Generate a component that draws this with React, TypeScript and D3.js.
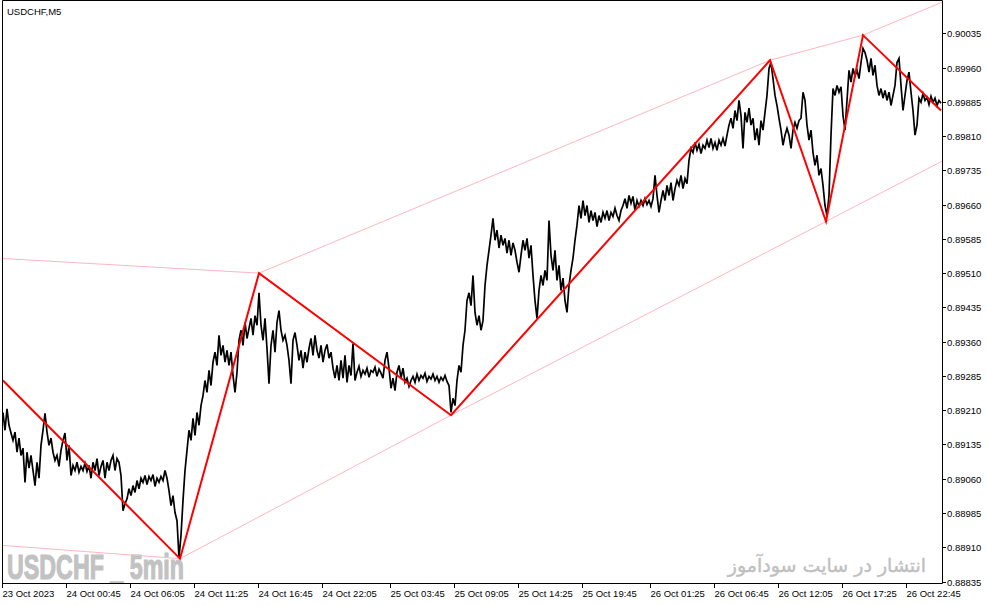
import React from "react";
import * as d3 from "d3";

// USDCHF M5 line chart with zigzag legs and channel lines
const SYMBOL = "USDCHF,M5";
const START = "2023-10-23 19:25";
const BAR_MINUTES = 5;
const BAR_COUNT = 939;
const CLOSE_STEP = 2; // one close every second bar

// closing prices (every 10 minutes from START)
const closes = [
  0.89205, 0.89166, 0.89213, 0.89177, 0.8916, 0.89144, 0.89162, 0.89118, 0.89149, 0.89111,
  0.89127, 0.89052, 0.89118, 0.89083, 0.89111, 0.89078, 0.89045, 0.89096, 0.89061, 0.89133, 0.89166,
  0.89203, 0.89162, 0.89133, 0.89149, 0.89118, 0.891, 0.89111, 0.89087, 0.89122, 0.89144, 0.8916,
  0.891, 0.89133, 0.89067, 0.89089, 0.89078, 0.89096, 0.89074, 0.89087, 0.89078, 0.89094, 0.89076,
  0.89089, 0.89061, 0.89096, 0.89078, 0.89104, 0.89067, 0.89087, 0.891, 0.89061, 0.89096, 0.89078, 0.891, 0.89111, 0.89078, 0.89104, 0.89096, 0.89067,
  0.8899, 0.89005, 0.89016, 0.89038, 0.89023, 0.89045, 0.8903, 0.89056, 0.89038, 0.89061,
  0.89052, 0.89067, 0.89047, 0.89065, 0.89056, 0.89069, 0.89043, 0.89061, 0.89052, 0.89065, 0.89056, 0.89078, 0.89061,
  0.89034, 0.89001, 0.89023, 0.88986, 0.88968, 0.88887,
  0.88936, 0.89012, 0.89078, 0.89122, 0.89166, 0.89144, 0.89192, 0.89155, 0.89205, 0.89177,
  0.8922, 0.89242, 0.89275, 0.89249, 0.89297, 0.89264, 0.89315, 0.89337, 0.89308, 0.89374, 0.8933,
  0.89352, 0.89315, 0.89341, 0.89308, 0.89337, 0.89286, 0.89249, 0.89293, 0.89363, 0.89385, 0.89352, 0.89402, 0.89367, 0.89389, 0.89411, 0.89374, 0.89417, 0.89396,
  0.89467, 0.89396, 0.89363, 0.89411, 0.89345, 0.89268, 0.89352, 0.89385, 0.89337, 0.89402, 0.89428, 0.89385, 0.89363, 0.89374, 0.89352, 0.89319, 0.89268,
  0.89363, 0.8938, 0.89352, 0.89319, 0.89341, 0.89302, 0.89337, 0.89315, 0.89345, 0.89367, 0.8933, 0.89374, 0.89341, 0.89324, 0.89352, 0.89315, 0.89341, 0.89354, 0.89324, 0.89337,
  0.89302, 0.8928, 0.89308, 0.89275, 0.89319, 0.8928, 0.8933, 0.89271, 0.89308, 0.89286, 0.89356, 0.89275,
  0.89293, 0.89306, 0.89284, 0.89297, 0.89289, 0.89302, 0.89282, 0.89297, 0.89293, 0.89304, 0.89284, 0.893, 0.89291, 0.8928,
  0.89319, 0.89337, 0.89302, 0.89258, 0.8928, 0.89253, 0.89293, 0.89308, 0.8928, 0.89302, 0.89271, 0.8928, 0.89262, 0.89275,
  0.89284, 0.89271, 0.89289, 0.89275, 0.89286, 0.8928, 0.89291, 0.89273, 0.89284, 0.89278, 0.89289, 0.89275, 0.89284, 0.89271, 0.89282, 0.89275, 0.89286, 0.89273,
  0.89264, 0.89205, 0.89236, 0.8922, 0.89275, 0.89308, 0.89293, 0.89352,
  0.89385, 0.8945, 0.89467, 0.89439, 0.89505, 0.89424, 0.89396, 0.89417, 0.89385, 0.89406,
  0.89483, 0.89527, 0.8956, 0.89593, 0.8963, 0.89582, 0.89604, 0.89565, 0.89593,
  0.89571, 0.89586, 0.89554, 0.89582, 0.89549, 0.89576, 0.8956, 0.89534, 0.89512,
  0.89549, 0.89582, 0.8956, 0.89586, 0.89543, 0.89571, 0.89505, 0.8945, 0.89411, 0.89472, 0.89505, 0.89483, 0.89516, 0.89494,
  0.89625, 0.89549, 0.89516, 0.8956, 0.89494, 0.89527, 0.89472, 0.89499, 0.8945, 0.89424, 0.89483, 0.89516, 0.89543, 0.89582,
  0.89615, 0.89658, 0.8963, 0.89669, 0.89636, 0.89658, 0.89621, 0.89647, 0.89625, 0.89643, 0.89612, 0.89636, 0.89621, 0.89643,
  0.8963, 0.89647, 0.89625, 0.89643, 0.89634, 0.89652, 0.89636, 0.89625, 0.89647, 0.89658, 0.89673, 0.89652, 0.8968, 0.89663, 0.89678, 0.89647, 0.89669, 0.89656,
  0.89669, 0.89658, 0.89673, 0.8966, 0.89669, 0.89656, 0.89673, 0.89724, 0.8968, 0.89643, 0.89669, 0.89691,
  0.89669, 0.89702, 0.8968, 0.89708, 0.89669, 0.89695, 0.89713, 0.89702, 0.89724, 0.89695, 0.89717, 0.89706, 0.89757, 0.89783,
  0.89774, 0.89796, 0.89779, 0.89792, 0.89772, 0.8979, 0.89783, 0.89801, 0.89785, 0.89805, 0.89783, 0.89796, 0.89779, 0.89801, 0.8979, 0.89805, 0.89788, 0.89812,
  0.89834, 0.89849, 0.89827, 0.89866, 0.89844, 0.89888, 0.89855, 0.89783, 0.89862, 0.8984, 0.89871, 0.89834, 0.89849, 0.89801, 0.89827, 0.8979, 0.89844, 0.89823, 0.89862, 0.89899,
  0.89958, 0.89971, 0.89936, 0.89899, 0.89877, 0.89849, 0.89823, 0.8979, 0.89812, 0.89827, 0.89812, 0.89783, 0.89823, 0.8984, 0.89827, 0.89844,
  0.89849, 0.89906, 0.89888, 0.89834, 0.89801, 0.89823, 0.89774, 0.89746, 0.89768, 0.89724, 0.89739, 0.89702, 0.89658, 0.89636, 0.8968,
  0.89812, 0.89914, 0.89899, 0.89921, 0.89906, 0.89918, 0.89855, 0.89823, 0.89888, 0.89954, 0.89928, 0.89958, 0.89941, 0.89954, 0.89936, 0.89971,
  0.90002, 0.89993, 0.89976, 0.8995, 0.8998, 0.89943, 0.89965, 0.89921, 0.89899, 0.89914, 0.89893, 0.8991, 0.89888, 0.89906, 0.89877, 0.89899, 0.89921,
  0.89971, 0.8998, 0.89921, 0.89866, 0.89899, 0.89932, 0.8995, 0.89906, 0.89866, 0.89812, 0.89834, 0.89893, 0.89884, 0.89903, 0.89888, 0.89895, 0.89879, 0.89897, 0.89884, 0.89893, 0.89877, 0.89888, 0.89882,
];

// zigzag turning points
const zigzagTimes = ["2023-10-23 19:25", "2023-10-24 10:10", "2023-10-24 16:45", "2023-10-25 08:45", "2023-10-26 11:20", "2023-10-26 16:00", "2023-10-26 19:05", "2023-10-27 01:35"];
const zigzagPrices = [0.89275, 0.88885, 0.8951, 0.89199, 0.89976, 0.89623, 0.90031, 0.89866];

// channel lines
const upperTimes = ["2023-10-23 19:25", "2023-10-24 16:45", "2023-10-26 11:20", "2023-10-26 19:05", "2023-10-27 01:40"];
const upperPrices = [0.89542, 0.8951, 0.89976, 0.90031, 0.90103];
const lowerTimes = ["2023-10-23 19:25", "2023-10-24 10:10", "2023-10-25 08:45", "2023-10-26 16:00", "2023-10-27 01:40"];
const lowerPrices = [0.88914, 0.88885, 0.89199, 0.89623, 0.89755];

const priceTicks = [
  0.88835, 0.8891, 0.88985, 0.8906, 0.89135, 0.8921, 0.89285, 0.8936, 0.89435,
  0.8951, 0.89585, 0.8966, 0.89735, 0.8981, 0.89885, 0.8996, 0.90035,
];
const timeTicks = [
  "2023-10-23 19:25", "2023-10-24 00:45", "2023-10-24 06:05", "2023-10-24 11:25", "2023-10-24 16:45",
  "2023-10-24 22:05", "2023-10-25 03:45", "2023-10-25 09:05", "2023-10-25 14:25", "2023-10-25 19:45",
  "2023-10-26 01:25", "2023-10-26 06:45", "2023-10-26 12:05", "2023-10-26 17:25", "2023-10-26 22:45",
];

const WATERMARK_LEFT = "USDCHF _ 5min";
const WATERMARK_RIGHT = "انتشار در سایت سودآموز";

const W = 987;
const H = 605;
const plot = { left: 3, right: 942, top: 1, bottom: 583 };
const FONT = "'Liberation Sans', Arial, sans-serif";

const parseTime = d3.timeParse("%Y-%m-%d %H:%M");
const fmtFirst = d3.timeFormat("%d %b %Y");
const fmtTick = d3.timeFormat("%d %b %H:%M");

export default function App() {
  const t0 = parseTime(START) as Date;
  const barMs = BAR_MINUTES * 60 * 1000;
  const t1 = new Date(+t0 + BAR_COUNT * barMs);

  // one 5-minute bar per pixel across the plot
  const x = d3.scaleTime().domain([t0, t1]).range([plot.left, plot.right]);
  const y = d3.scaleLinear().domain([0.88835, 0.90035]).range([581.5, 33.3]);

  const closePts: [number, number][] = closes.map((c, i) => [
    x(new Date(+t0 + i * CLOSE_STEP * barMs)),
    y(c),
  ]);
  const line = d3.line();
  const pts = (times: string[], prices: number[]): [number, number][] =>
    times.map((t, i) => [x(parseTime(t) as Date), y(prices[i])]);

  return (
    <svg
      width={W}
      height={H}
      style={{ position: "fixed", left: 0, top: 0, background: "#fff" }}
    >
      <defs>
        <clipPath id="plotClip">
          <rect x={plot.left} y={plot.top} width={plot.right - plot.left} height={plot.bottom - plot.top} />
        </clipPath>
      </defs>
      <rect x={0} y={0} width={W} height={H} fill="#fff" />

      {/* watermarks */}
      <text
        x={7}
        y={579}
        fontFamily={FONT}
        fontWeight="bold"
        fontSize={35}
        fill="#c2c2c2"
        stroke="#c2c2c2"
        strokeWidth={1.2}
        textLength={177}
        lengthAdjust="spacingAndGlyphs"
      >
        {WATERMARK_LEFT}
      </text>
      <text
        x={827}
        y={572}
        textAnchor="middle"
        fontFamily="'DejaVu Sans', sans-serif"
        fontSize={19}
        fill="#c0c0c0"
        stroke="#c0c0c0"
        strokeWidth={0.4}
        direction="rtl"
      >
        {WATERMARK_RIGHT}
      </text>

      <g clipPath="url(#plotClip)">
        <path d={line(pts(upperTimes, upperPrices)) ?? ""} fill="none" stroke="#ffb6c1" strokeWidth={1} />
        <path d={line(pts(lowerTimes, lowerPrices)) ?? ""} fill="none" stroke="#ffb6c1" strokeWidth={1} />
        <path d={line(closePts) ?? ""} fill="none" stroke="#000" strokeWidth={1.7} strokeLinejoin="miter" />
        <path d={line(pts(zigzagTimes, zigzagPrices)) ?? ""} fill="none" stroke="#ff0000" strokeWidth={2} />
      </g>

      {/* frame */}
      <path
        d={`M${plot.left - 0.5},${plot.bottom}V${plot.top - 0.5}H${plot.right + 0.5}V${plot.bottom + 0.5}H${plot.left - 0.5}`}
        fill="none"
        stroke="#000"
        strokeWidth={1}
      />

      <text x={7} y={15} fontFamily={FONT} fontSize={9.5} fill="#000">
        {SYMBOL}
      </text>

      {/* price axis */}
      {priceTicks.map((p) => (
        <g key={p} transform={`translate(0,${Math.round(y(p)) + 0.5})`}>
          <line x1={plot.right} x2={plot.right + 4} stroke="#000" />
          <text x={plot.right + 5} dy="0.33em" fontFamily={FONT} fontSize={9.5} fill="#000">
            {p.toFixed(5)}
          </text>
        </g>
      ))}

      {/* time axis */}
      {timeTicks.map((t, i) => {
        const d = parseTime(t) as Date;
        const xp = Math.round(x(d)) - 0.5;
        return (
          <g key={t}>
            <line x1={xp} x2={xp} y1={plot.bottom} y2={plot.bottom + 5} stroke="#000" />
            <text x={xp} y={597} fontFamily={FONT} fontSize={9.5} fill="#000">
              {i === 0 ? fmtFirst(d) : fmtTick(d)}
            </text>
          </g>
        );
      })}
    </svg>
  );
}
